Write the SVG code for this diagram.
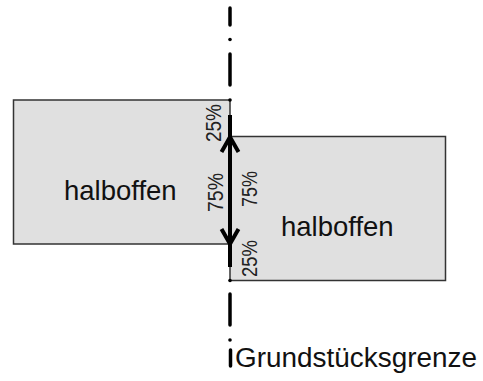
<svg xmlns="http://www.w3.org/2000/svg" width="483" height="381" viewBox="0 0 483 381">
<style>
.box{fill:#e0e0e0;stroke:#333;stroke-width:1.5}
.lbl{font-family:"Liberation Sans",Arial,sans-serif;font-size:27.5px;fill:#111}
.pct{font-family:"Liberation Sans",Arial,sans-serif;font-size:21.5px;fill:#222}
.dash{stroke:#000;stroke-width:3.5;stroke-linecap:round;fill:none}
.arrow{stroke:#000;stroke-width:4;fill:none;stroke-linecap:butt}
</style>
<rect width="483" height="381" fill="#fff"/>
<g id="left-building">
<rect class="box" x="13.5" y="100" width="216.5" height="144"/>
<text class="lbl" x="64" y="199.5">halboffen</text>
</g>
<g id="right-building">
<rect class="box" x="230" y="136.5" width="215.5" height="144"/>
<text class="lbl" x="281" y="235.5">halboffen</text>
</g>
<g id="connectors">
<line class="dash" x1="230" y1="8" x2="230" y2="25"/>
<circle cx="230" cy="39.5" r="1.8"/>
<line class="dash" x1="230" y1="54" x2="230" y2="85"/>
<circle cx="230" cy="100" r="1.8"/>
<line class="arrow" x1="230" y1="115" x2="230" y2="267"/>
<polyline class="arrow" points="221.5,152 230,137 238.5,152"/>
<polyline class="arrow" points="221.5,229 230,244 238.5,229"/>
<circle cx="230" cy="280.5" r="1.8"/>
<line class="dash" x1="230" y1="294" x2="230" y2="325"/>
<circle cx="230" cy="340" r="1.8"/>
<line class="dash" x1="230.5" y1="350" x2="230.5" y2="366"/>
</g>
<g id="labels">
<text class="pct" transform="translate(221,142) rotate(-90)" textLength="38" lengthAdjust="spacingAndGlyphs">25%</text>
<text class="pct" transform="translate(223,212) rotate(-90)" textLength="39" lengthAdjust="spacingAndGlyphs">75%</text>
<text class="pct" transform="translate(256.5,207) rotate(-90)" textLength="36" lengthAdjust="spacingAndGlyphs">75%</text>
<text class="pct" transform="translate(257,277) rotate(-90)" textLength="37" lengthAdjust="spacingAndGlyphs">25%</text>
<text class="lbl" x="235" y="367" textLength="242" lengthAdjust="spacingAndGlyphs" style="font-size:27px">Grundstücksgrenze</text>
</g>
</svg>
